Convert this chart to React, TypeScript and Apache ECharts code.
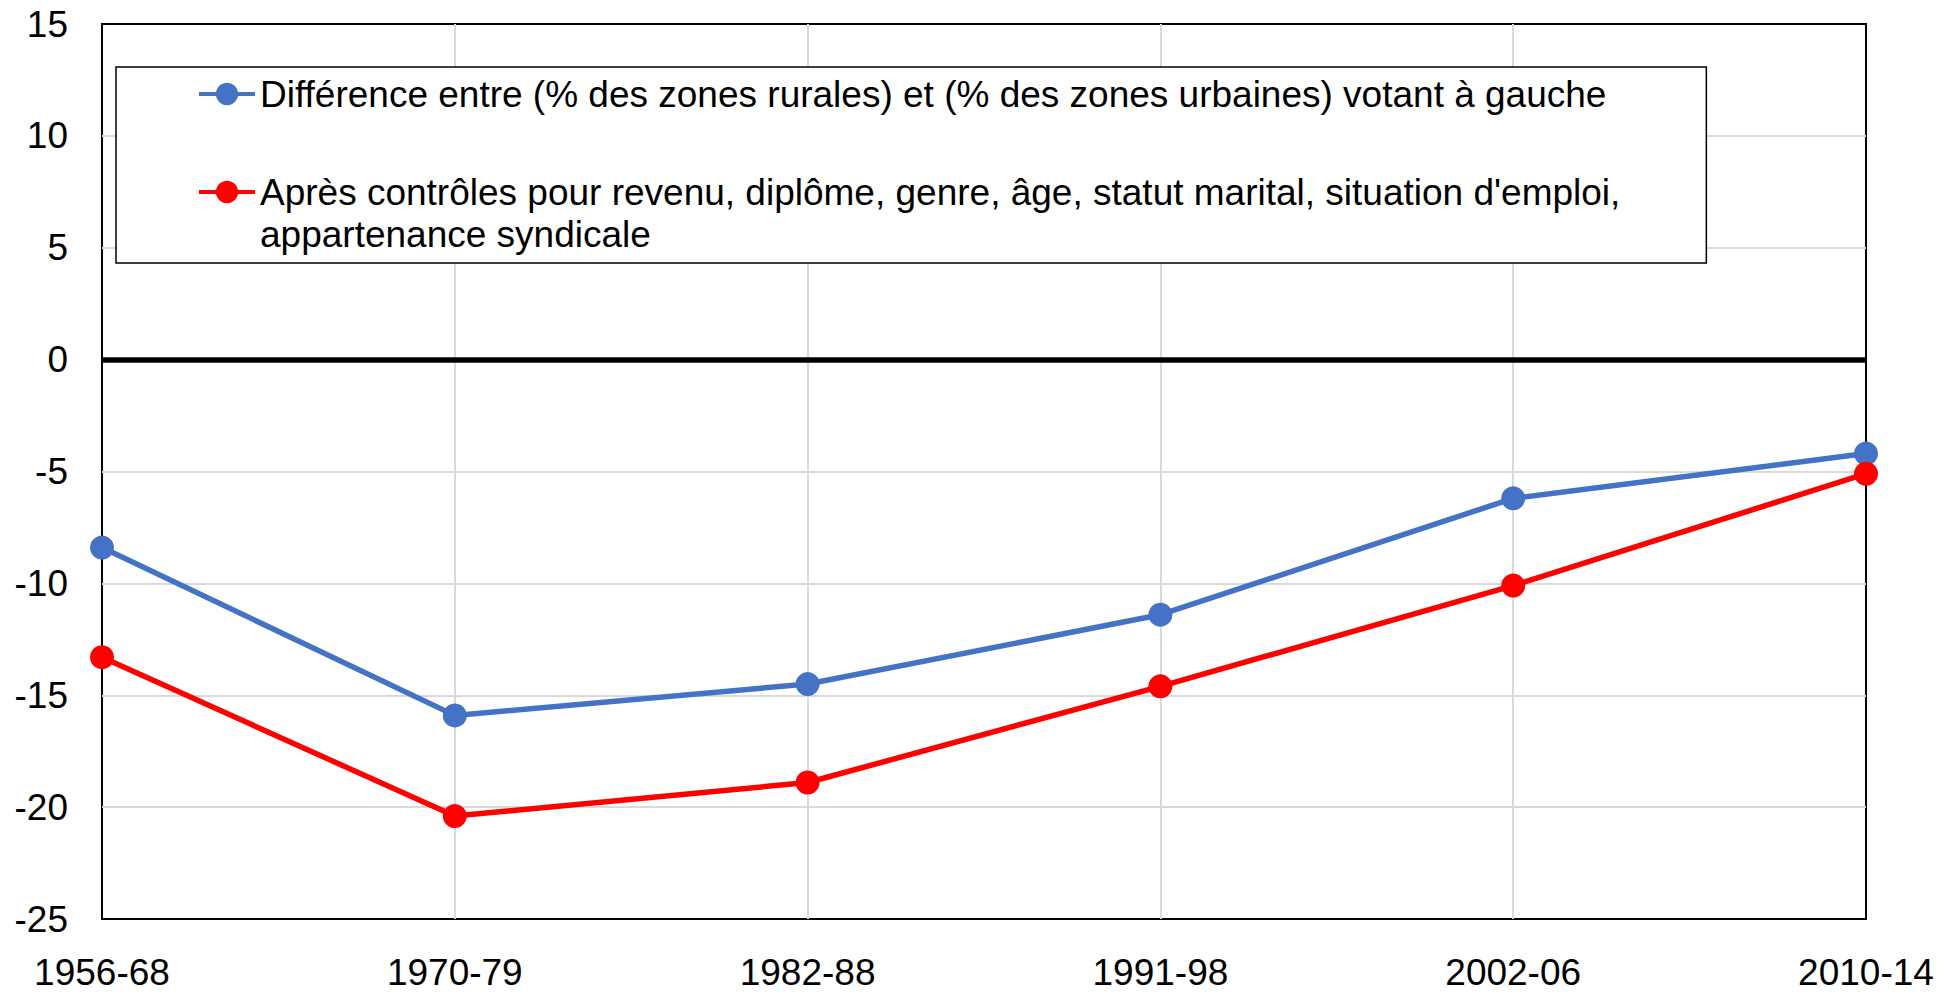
import React, { useEffect, useRef } from "react";
import * as echarts from "echarts";

const categories = ["1956-68", "1970-79", "1982-88", "1991-98", "2002-06", "2010-14"];
const seriesNames = [
  "Différence entre (% des zones rurales) et (% des zones urbaines) votant à gauche",
  "Après contrôles pour revenu, diplôme, genre, âge, statut marital, situation d'emploi,\nappartenance syndicale",
];
const rawGap = [-8.4, -15.9, -14.5, -11.4, -6.2, -4.2];
const controlledGap = [-13.3, -20.4, -18.9, -14.6, -10.1, -5.1];
const yMin = -25;
const yMax = 15;
const yInterval = 5;

const FONT = "'Liberation Sans', Arial, Helvetica, sans-serif";

export default function App() {
  const ref = useRef<HTMLDivElement>(null);
  useEffect(() => {
    if (!ref.current) return;
    const chart = echarts.init(ref.current, null, { renderer: "svg" });
    chart.setOption({
      animation: false,
      backgroundColor: "#ffffff",
      textStyle: { fontFamily: FONT },
      grid: {
        left: 102,
        right: 91,
        top: 24,
        bottom: 73,
        show: true,
        borderColor: "#000000",
        borderWidth: 2,
        backgroundColor: "transparent",
      },
      legend: {
        orient: "vertical",
        left: 116,
        top: 67,
        selectedMode: false,
        backgroundColor: "#ffffff",
        borderColor: "#000000",
        borderWidth: 1.5,
        padding: [6, 86, 8, 81],
        itemWidth: 56,
        itemHeight: 28,
        itemGap: 14,
        lineStyle: { width: 4 },
        textStyle: { fontFamily: FONT, fontSize: 37, lineHeight: 42, color: "#000000" },
        formatter: (name: string) => (name.indexOf("\n") >= 0 ? "\n" + name : name),
        data: [{ name: seriesNames[0] }, { name: seriesNames[1] }],
      },
      xAxis: {
        type: "category",
        data: categories,
        boundaryGap: false,
        axisLine: { show: false, onZero: false },
        axisTick: { show: false },
        axisLabel: { fontFamily: FONT, fontSize: 37, color: "#000000", margin: 35 },
        splitLine: {
          show: true,
          showMinLine: false,
          showMaxLine: false,
          lineStyle: { color: "#d9d9d9", width: 2 },
        },
      },
      yAxis: {
        type: "value",
        min: yMin,
        max: yMax,
        interval: yInterval,
        axisLine: { show: false },
        axisTick: { show: false },
        axisLabel: { fontFamily: FONT, fontSize: 37, color: "#000000", margin: 34 },
        splitLine: {
          show: true,
          showMinLine: false,
          showMaxLine: false,
          lineStyle: { color: "#d9d9d9", width: 2 },
        },
      },
      series: [
        {
          name: seriesNames[0],
          type: "line",
          data: rawGap,
          symbol: "circle",
          symbolSize: 24,
          lineStyle: { color: "#4472c4", width: 5.5 },
          itemStyle: { color: "#4472c4" },
          markLine: {
            silent: true,
            symbol: "none",
            label: { show: false },
            lineStyle: { color: "#000000", width: 5.5, type: "solid" },
            data: [{ yAxis: 0 }],
          },
        },
        {
          name: seriesNames[1],
          type: "line",
          data: controlledGap,
          symbol: "circle",
          symbolSize: 24,
          lineStyle: { color: "#ff0000", width: 5.5 },
          itemStyle: { color: "#ff0000" },
        },
      ],
    });
    return () => chart.dispose();
  }, []);
  return (
    <div
      ref={ref}
      style={{ position: "fixed", left: 0, top: 0, width: 1957, height: 992, background: "#fff" }}
    />
  );
}
